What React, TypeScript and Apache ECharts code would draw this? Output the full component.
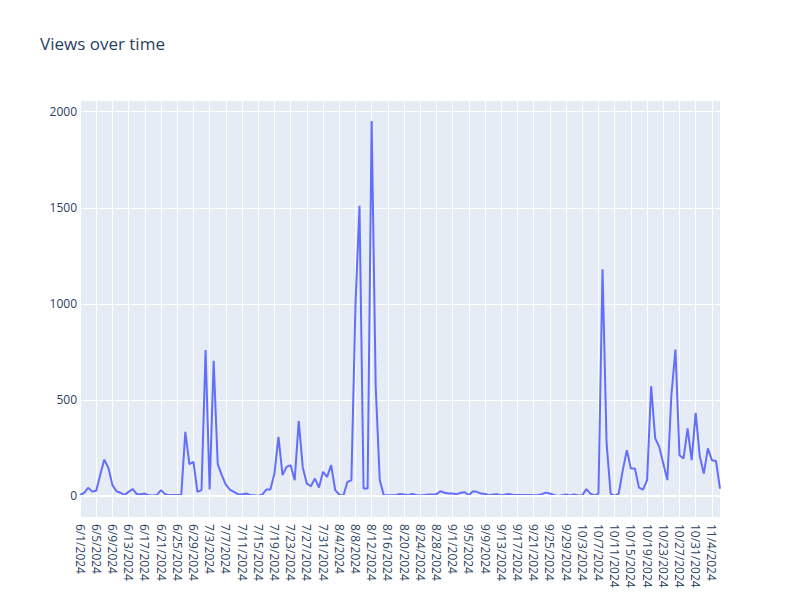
import React, { useEffect, useRef } from "react";
import * as echarts from "echarts";

const startDate = { year: 2024, month: 6, day: 1 };

const views: number[] = [
  5, 15, 42, 22, 27, 110, 189, 146, 56, 24,
  16, 5, 21, 36, 9, 9, 12, 3, 2, 5,
  30, 9, 3, 5, 5, 4, 333, 165, 177, 21,
  30, 759, 33, 703, 165, 108, 59, 33, 21, 9,
  7, 12, 5, 3, 0, 7, 33, 33, 116, 307,
  108, 151, 160, 82, 389, 148, 64, 50, 90, 43,
  125, 99, 160, 30, 7, 0, 71, 82, 990, 1510,
  38, 38, 1951, 570, 82, 3, 3, 3, 5, 10,
  7, 3, 10, 5, 2, 5, 7, 7, 9, 24,
  16, 12, 12, 9, 16, 19, 3, 24, 21, 12,
  10, 3, 7, 9, 2, 7, 10, 5, 5, 5,
  5, 5, 3, 5, 9, 17, 12, 5, 0, 3,
  7, 2, 7, 2, 3, 35, 12, 3, 12, 1180,
  273, 12, 0, 12, 134, 238, 142, 142, 43, 33,
  82, 571, 299, 255, 168, 82, 524, 762, 212, 194,
  351, 186, 432, 207, 116, 247, 186, 182, 38,
];

const yTickStep = 500;
const yRange = [-110, 2061];

function buildDates(n: number): string[] {
  const out: string[] = [];
  const d = new Date(Date.UTC(startDate.year, startDate.month - 1, startDate.day));
  for (let i = 0; i < n; i++) {
    out.push(`${d.getUTCMonth() + 1}/${d.getUTCDate()}/${d.getUTCFullYear()}`);
    d.setUTCDate(d.getUTCDate() + 1);
  }
  return out;
}

const dates = buildDates(views.length);

export default function App() {
  const ref = useRef<HTMLDivElement>(null);
  useEffect(() => {
    if (!ref.current) return;
    const chart = echarts.init(ref.current, null, { renderer: "svg" });
    const font = "'Open Sans', verdana, arial, sans-serif";
    chart.setOption({
      animation: false,
      backgroundColor: "#ffffff",
      title: {
        text: "Views over time",
        left: 40,
        top: 35,
        padding: 0,
        textStyle: { color: "#2a3f5f", fontSize: 17, fontWeight: "normal", fontFamily: font },
      },
      grid: {
        left: 80,
        right: 80,
        top: 100,
        bottom: 83,
        show: true,
        backgroundColor: "#E5ECF6",
        borderWidth: 0,
        containLabel: false,
      },
      xAxis: {
        type: "category",
        boundaryGap: false,
        data: dates,
        axisLine: { show: false },
        axisTick: { show: false },
        axisLabel: {
          interval: 3,
          rotate: -90,
          margin: 7,
          color: "#2a3f5f",
          fontSize: 12,
          fontFamily: font,
        },
        splitLine: { show: true, interval: 3, lineStyle: { color: "#ffffff", width: 1 } },
      },
      yAxis: {
        type: "value",
        min: yRange[0],
        max: yRange[1],
        splitNumber: 4,
        axisLine: { show: false },
        axisTick: { show: false },
        axisLabel: {
          margin: 3,
          color: "#2a3f5f",
          fontSize: 12,
          fontFamily: font,
          showMinLabel: false,
          showMaxLabel: false,
          formatter: (v: number) => (v % yTickStep === 0 ? String(v) : ""),
        },
        splitLine: { show: true, lineStyle: { color: "#ffffff", width: 1 } },
      },
      series: [
        {
          type: "line",
          data: [],
          z: 1,
          silent: true,
          markLine: {
            silent: true,
            symbol: "none",
            label: { show: false },
            lineStyle: { color: "#ffffff", width: 2, type: "solid" },
            data: [{ yAxis: 0 }],
          },
        },
        {
          type: "line",
          data: views,
          z: 3,
          showSymbol: false,
          symbol: "none",
          lineStyle: { color: "#636efa", width: 2 },
          itemStyle: { color: "#636efa" },
        },
      ],
    });
    return () => chart.dispose();
  }, []);
  return (
    <div
      ref={ref}
      style={{ position: "fixed", left: 0, top: 0, width: 800, height: 600 }}
    />
  );
}
